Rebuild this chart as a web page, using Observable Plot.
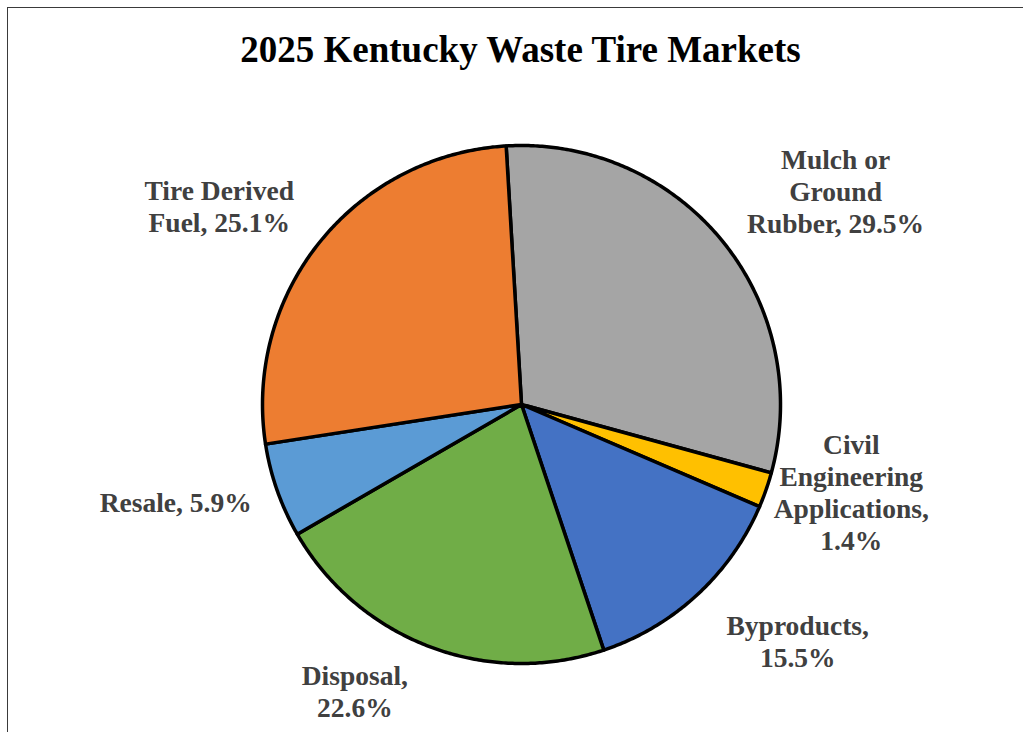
<!DOCTYPE html>
<html><head><meta charset="utf-8">
<script src="https://cdn.jsdelivr.net/npm/d3@7"></script>
<script src="https://cdn.jsdelivr.net/npm/@observablehq/plot@0.6"></script>
<style>
html,body{margin:0;padding:0;background:#fff;overflow:hidden;width:1023px;height:732px;}
#frame{position:absolute;left:7px;top:7px;width:1100px;height:800px;border:1.5px solid #3a3a3a;box-sizing:border-box}
#title{position:absolute;left:0;top:28px;width:1041px;text-align:center;font:bold 37px "Liberation Serif","Times New Roman",serif;color:#000;line-height:44px;white-space:nowrap}
#chart{position:absolute;left:0;top:90px}
</style></head><body>
<div id="frame"></div>
<div id="title">2025 Kentucky Waste Tire Markets</div>
<div id="chart"></div>
<script>
// ---- data ----
const categories = ["Mulch or Ground Rubber", "Civil Engineering Applications", "Byproducts", "Disposal", "Resale", "Tire Derived Fuel"];
// slice sizes as drawn in the reference pie (percent)
const shares = [30.2, 2.2, 13.4, 21.8, 5.9, 26.5];
// percentages printed in the data labels
const labelPct = ["29.5%", "1.4%", "15.5%", "22.6%", "5.9%", "25.1%"];
// label wording with the reference's line wrapping
const labelNames = ["Mulch or\nGround\nRubber,", "Civil\nEngineering\nApplications,", "Byproducts,", "Disposal,", "Resale,", "Tire Derived\nFuel,"];
const labelBreak = [" ", "\n", "\n", "\n", " ", " "];

// ---- styles / layout ----
const colors = ["#A5A5A5", "#FFC000", "#4472C4", "#70AD47", "#5B9BD5", "#ED7D31"];
const startDeg = -3.4;
const labelRadius = [1.46, 1.32, 1.41, 1.29, 1.39, 1.39];
const labelNudgeDeg = [5.2, -4, -6.5, 9.2, 3.3, -6];
const W = 1023, H = 642, CX = 521, CY = 314, R = 259;

const rad = d => d * Math.PI / 180;
const arcs = d3.pie().sort(null).startAngle(rad(startDeg)).endAngle(rad(startDeg) + 2 * Math.PI)(shares);

const slices = arcs.map((a, i) => {
  const pts = [{x: 0, y: 0}];
  const n = Math.max(2, Math.ceil((a.endAngle - a.startAngle) / rad(0.5)));
  for (let k = 0; k <= n; k++) {
    const t = a.startAngle + (a.endAngle - a.startAngle) * k / n;
    pts.push({x: Math.sin(t), y: Math.cos(t)});
  }
  return {name: categories[i], color: colors[i], pts};
});

const labels = arcs.map((a, i) => {
  const t = (a.startAngle + a.endAngle) / 2 + rad(labelNudgeDeg[i]);
  return {x: labelRadius[i] * Math.sin(t), y: labelRadius[i] * Math.cos(t), text: labelNames[i] + labelBreak[i] + labelPct[i]};
});

const chart = Plot.plot({
  width: W, height: H, margin: 0,
  x: {domain: [-CX / R, (W - CX) / R], axis: null},
  y: {domain: [-(H - CY) / R, CY / R], axis: null},
  marks: [
    ...slices.map(s => Plot.line(s.pts, {x: "x", y: "y", curve: "linear-closed", fill: s.color, stroke: "#000", strokeWidth: 3.5, strokeLinejoin: "round"})),
    Plot.text(labels, {x: "x", y: "y", text: "text", dy: -3, fontSize: 27.5, fontWeight: "bold", fontFamily: "Liberation Serif, Times New Roman, serif", fill: "#404040", lineHeight: 1.16, textAnchor: "middle", lineAnchor: "middle"})
  ]
});
document.getElementById("chart").appendChild(chart);
</script>
</body></html>
